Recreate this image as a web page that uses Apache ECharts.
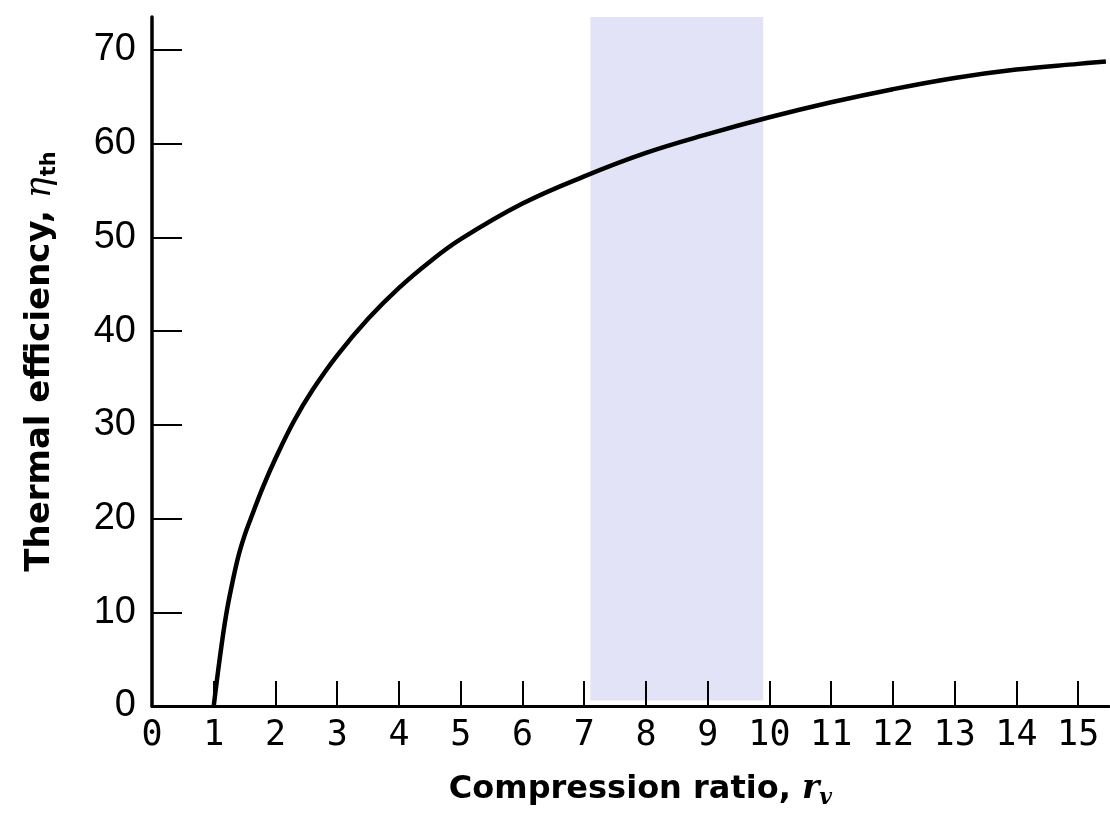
<!DOCTYPE html>
<html>
<head>
<meta charset="utf-8">
<script src="https://cdn.jsdelivr.net/npm/echarts@6/dist/echarts.min.js"></script>
<style>
  html, body { margin: 0; padding: 0; background: #fff; }
  #chart { width: 1110px; height: 821px; }
</style>
</head>
<body>
<div id="chart"></div>
<script>
// Compression ratio r_v (x) and thermal efficiency eta_th in % (y)
const compressionRatio = [1.0, 1.1, 1.2, 1.3, 1.4, 1.5, 1.6, 1.8, 2, 2.3, 2.6, 3, 3.5, 4, 4.5, 5, 6, 7, 8, 9, 10, 11, 12, 13, 14, 15, 15.45];
const efficiency       = [0, 5.2, 9.7, 13.1, 16.0, 18.2, 20.0, 23.4, 26.4, 30.4, 33.7, 37.4, 41.3, 44.6, 47.4, 49.8, 53.6, 56.5, 59.0, 61.0, 62.8, 64.4, 65.8, 67.0, 67.9, 68.5, 68.75];

// shaded band of typical compression ratios
const bandRange = [7.1, 9.9];

// tick labels
const xTickLabels = [0,1,2,3,4,5,6,7,8,9,10,11,12,13,14,15];
const xTickMarks  = [1,2,3,4,5,6,7,8,9,10,11,12,13,14,15];
const yTickLabels = [0,10,20,30,40,50,60,70];
const yTickMarks  = [10,20,30,40,50,60,70];

const X_MAX = 15.5;
const Y_MAX = 73.5;

const chart = echarts.init(document.getElementById('chart'), null, { renderer: 'canvas' });

const points = compressionRatio.map((r, i) => [r, efficiency[i]]);

chart.setOption({
  animation: false,
  backgroundColor: '#ffffff',
  grid: { left: 152, right: 1, top: 17, bottom: 115, containLabel: false },
  xAxis: {
    type: 'value',
    min: 0, max: X_MAX, interval: 1,
    z: 5,
    axisLine: { show: true, onZero: false, lineStyle: { color: '#000', width: 3 } },
    axisTick: { show: true, inside: true, length: 25, customValues: xTickMarks, lineStyle: { color: '#000', width: 2 } },
    axisLabel: {
      show: true, customValues: xTickLabels, margin: 12,
      color: '#000', fontFamily: 'DejaVu Sans Mono', fontSize: 35
    },
    splitLine: { show: false },
    name: '{a|Compression ratio, }{b|r}{c|v}',
    nameLocation: 'middle',
    nameGap: 64,
    nameTextStyle: {
      padding: [0, 0, 0, 20],
      rich: {
        a: { fontFamily: 'DejaVu Sans', fontWeight: 'bold', fontSize: 32, color: '#000' },
        b: { fontFamily: 'DejaVu Serif', fontStyle: 'italic', fontWeight: 'bold', fontSize: 33, color: '#000' },
        c: { fontFamily: 'DejaVu Serif', fontStyle: 'italic', fontWeight: 'bold', fontSize: 22, color: '#000', verticalAlign: 'top', padding: [17, 0, 0, 0] }
      }
    }
  },
  yAxis: {
    type: 'value',
    min: 0, max: Y_MAX, interval: 10,
    z: 5,
    axisLine: { show: true, onZero: false, lineStyle: { color: '#000', width: 3.5 } },
    axisTick: { show: true, inside: true, length: 30, customValues: yTickMarks, lineStyle: { color: '#000', width: 2 } },
    axisLabel: {
      show: true, customValues: yTickLabels, margin: 16,
      color: '#000', fontFamily: 'Liberation Sans', fontSize: 38
    },
    splitLine: { show: false },
    name: '{a|Thermal efficiency, }{b|η}{c|th}',
    nameLocation: 'middle',
    nameRotate: 90,
    nameGap: 92,
    nameTextStyle: {
      rich: {
        a: { fontFamily: 'DejaVu Sans', fontWeight: 'bold', fontSize: 34, color: '#000' },
        b: { fontFamily: 'DejaVu Serif', fontStyle: 'italic', fontSize: 35, color: '#000' },
        c: { fontFamily: 'DejaVu Sans', fontWeight: 'bold', fontSize: 21, color: '#000', verticalAlign: 'top', padding: [18, 0, 0, 1] }
      }
    }
  },
  series: [{
    type: 'line',
    data: points,
    smooth: 0.4,
    showSymbol: false,
    symbol: 'none',
    z: 3,
    lineStyle: { color: '#000', width: 4.5 },
    markArea: {
      silent: true,
      z: 1,
      itemStyle: { color: '#e3e3f7' },
      data: [[
        { xAxis: bandRange[0], yAxis: 0.6 },
        { xAxis: bandRange[1], yAxis: Y_MAX }
      ]]
    }
  }]
});
</script>
</body>
</html>
